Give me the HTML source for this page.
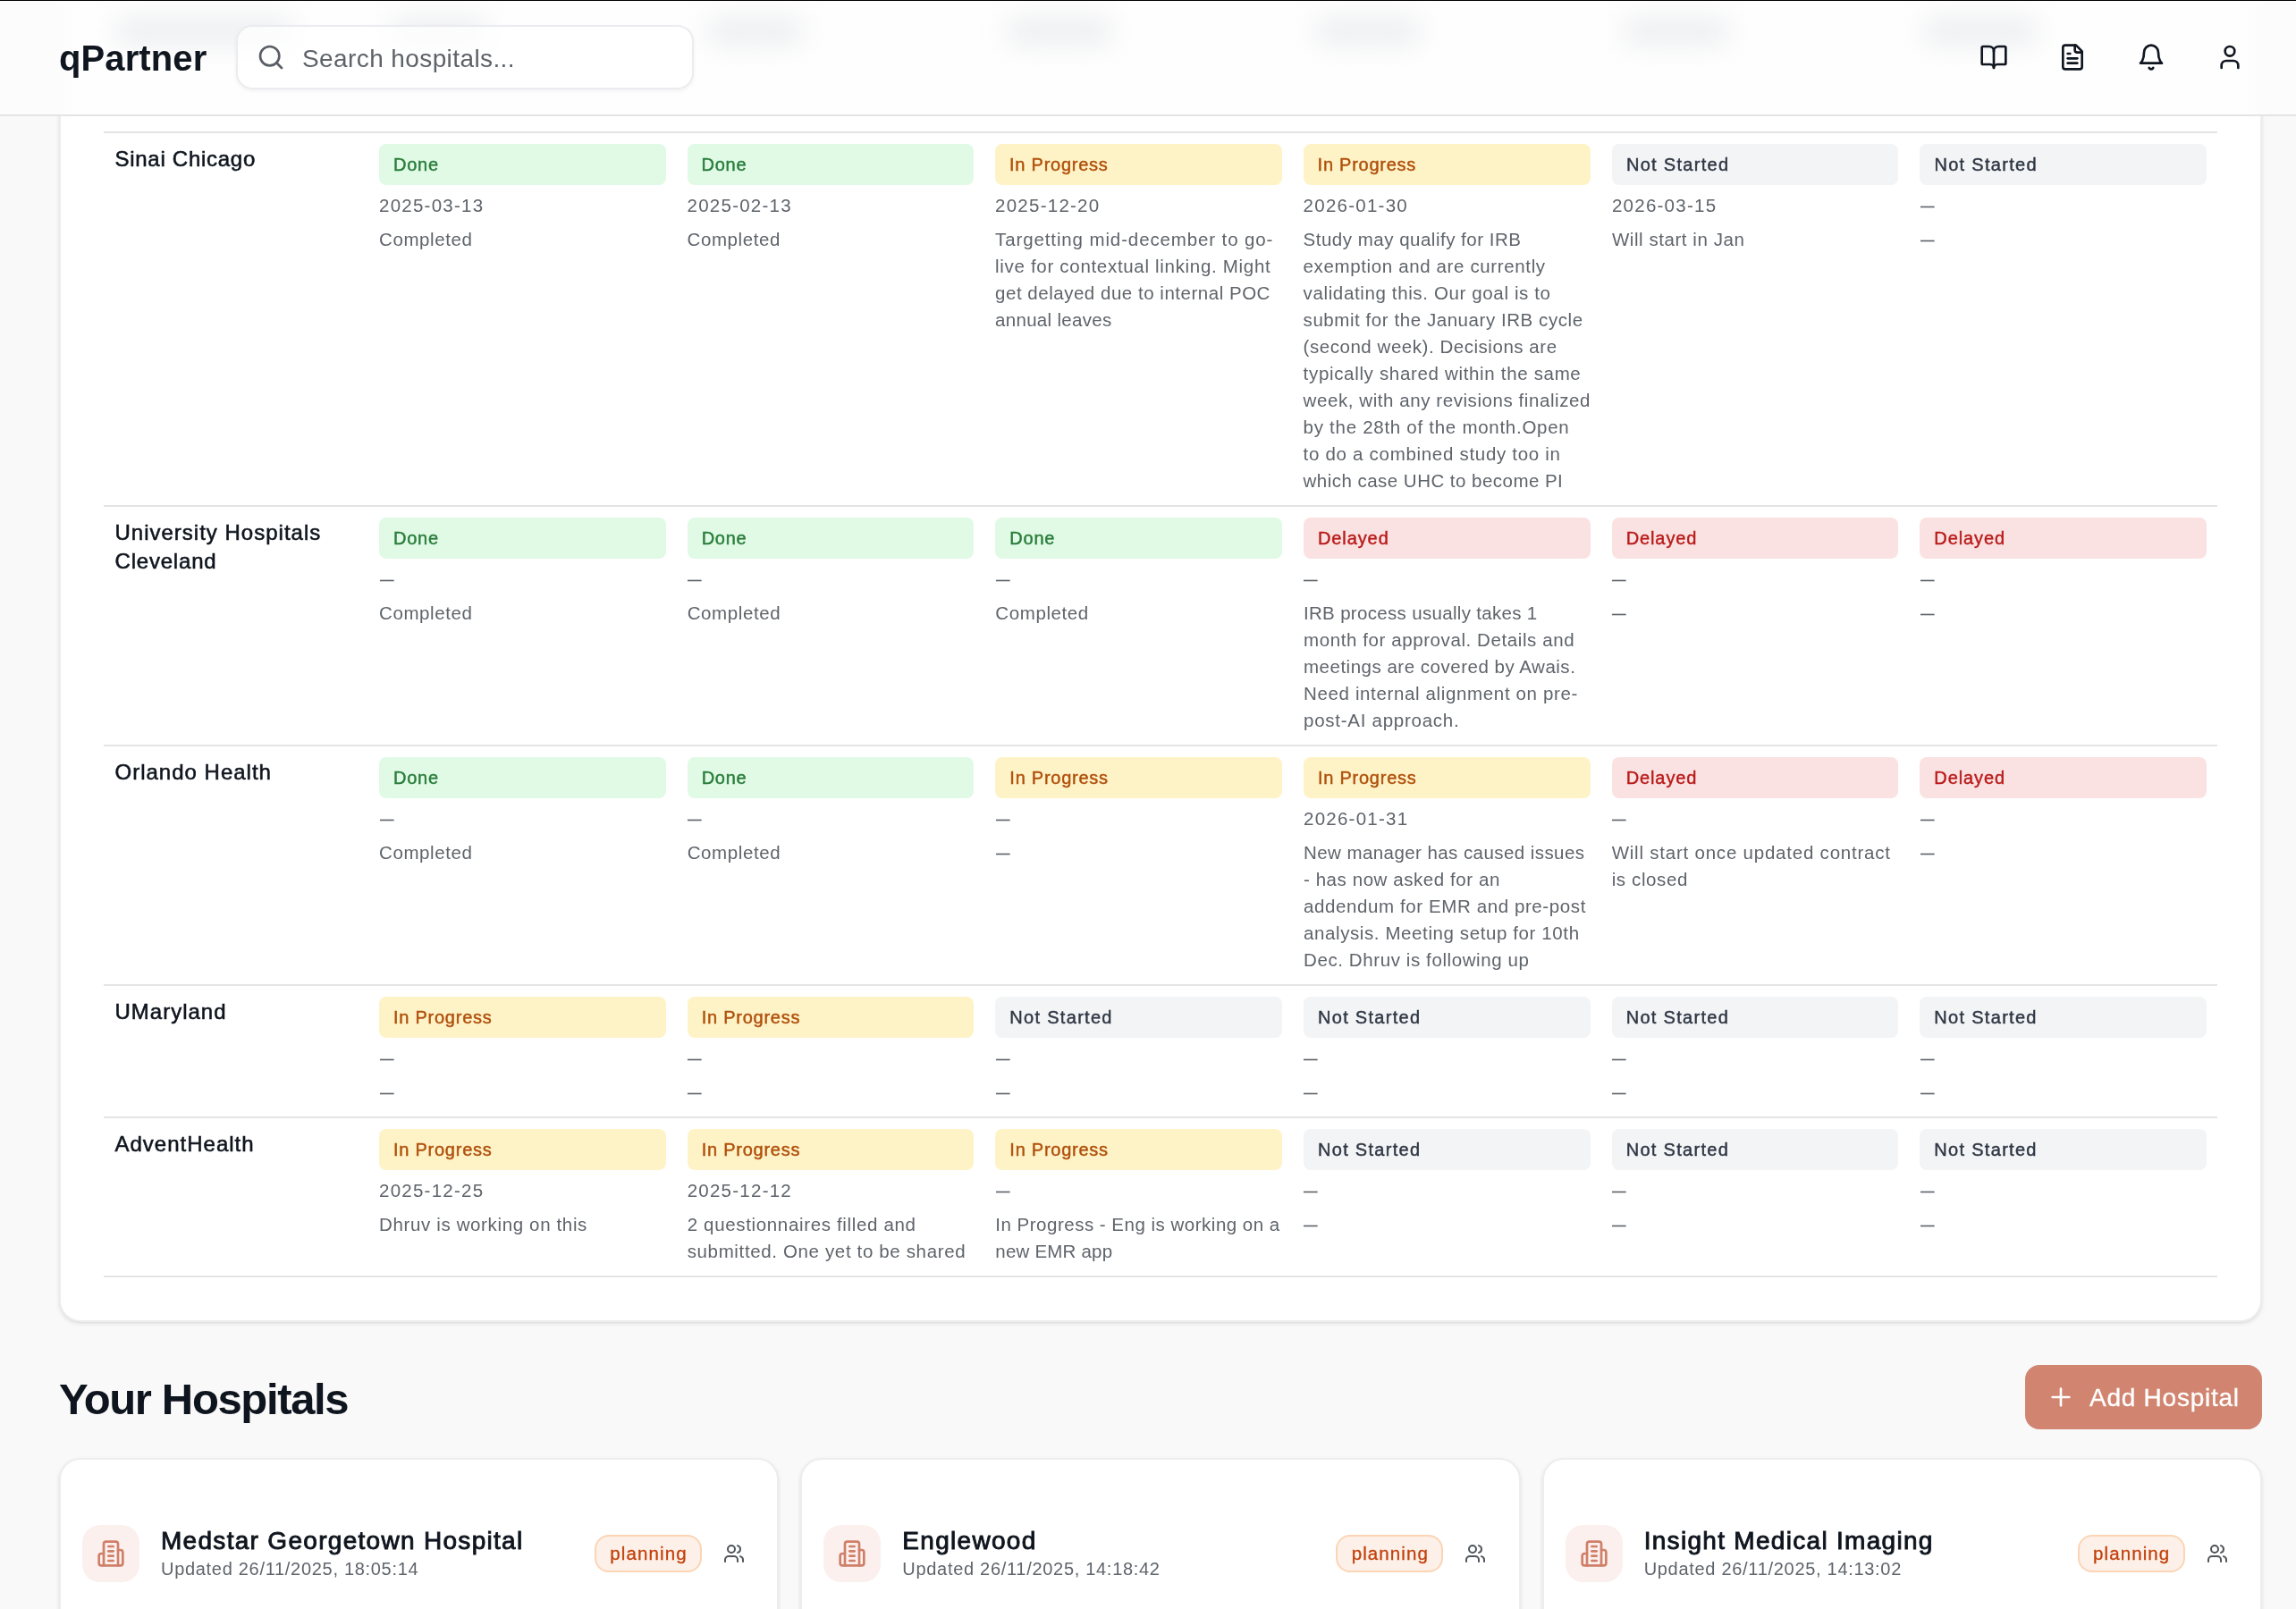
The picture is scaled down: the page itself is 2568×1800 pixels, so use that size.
<!DOCTYPE html>
<html lang="en">
<head>
<meta charset="utf-8">
<title>qPartner</title>
<style>
*{box-sizing:border-box;margin:0;padding:0}
html,body{width:2568px;height:1800px;overflow:hidden}
body{background:#f9f9f9;font-family:"Liberation Sans",Arial,sans-serif;color:#111827;position:relative;-webkit-font-smoothing:antialiased;will-change:transform}
svg{display:block;fill:none;stroke:currentColor;stroke-width:2;stroke-linecap:round;stroke-linejoin:round}

/* ---------- header ---------- */
.topline{position:absolute;left:0;top:0;width:2568px;height:1px;background:#000;z-index:30}
header{position:absolute;left:0;top:0;width:2568px;height:130px;background:linear-gradient(90deg,#fcfcfc 0,#fcfcfc 56px,#fefefe 92px,#fefefe 2504px,#fcfcfc 2540px,#fcfcfc 100%);border-bottom:2px solid #e4e4e5;z-index:20}
.logo{position:absolute;left:66px;top:37px;font-size:40px;line-height:56px;font-weight:700;letter-spacing:.1px;color:#10161f;white-space:nowrap}
.search{position:absolute;left:264px;top:28px;width:512px;height:72px;border:2px solid #ebecef;border-radius:18px;background:rgba(255,255,255,.72);box-shadow:0 2px 4px rgba(0,0,0,.05)}
.search svg{position:absolute;left:21px;top:18px;width:32px;height:32px;color:#595e66}
.search span{position:absolute;left:72px;top:16px;font-size:28px;line-height:40px;color:#5e6369;white-space:nowrap;letter-spacing:.4px}
.hbtn{position:absolute;top:48px;width:32px;height:32px;color:#10161f}
.blob{position:absolute;top:20px;height:30px;border-radius:15px;background:#d4d7dc;filter:blur(15px);opacity:.42}

/* ---------- table card ---------- */
.card{position:absolute;background:#fff;border:2px solid #ededee;border-radius:24px;box-shadow:0 2px 5px rgba(0,0,0,.09),0 1px 2px rgba(0,0,0,.05)}
#tcard{left:66px;top:-40px;width:2464px;height:1519px}
#tbl{position:absolute;left:48px;top:185px;width:2364px;border-bottom:2px solid #e4e4e4}
.row{display:grid;grid-template-columns:296px repeat(6,1fr);border-top:2px solid #e4e4e4}
.c{padding:12px}
.name{font-size:24px;line-height:32px;color:#0f151e;letter-spacing:1px;-webkit-text-stroke:.55px #0f151e;white-space:nowrap;position:relative;top:1px;left:.5px}
.pill{height:46px;border-radius:8px;padding:8px 16px;font-size:20px;line-height:30px;letter-spacing:.75px;white-space:nowrap;-webkit-text-stroke:.45px currentColor}
.done{background:#e0fae6;color:#2a7d3b}
.prog{background:#fef3c7;color:#b0500c}
.dely{background:#fbe2e2;color:#b91c1c;letter-spacing:.9px}
.nots{background:#f3f4f6;color:#2f3744;letter-spacing:1.3px}
.d,.n{margin-top:8px;font-size:20.5px;line-height:30px;color:#5f646b;white-space:nowrap;letter-spacing:.6px}
.d{letter-spacing:1.25px}
.em{display:inline-block;letter-spacing:0;transform:scaleX(.76);transform-origin:0 50%;margin-left:.5px;-webkit-text-stroke:.1px currentColor}

/* ---------- hospitals ---------- */
h2{position:absolute;left:66px;top:1533px;font-size:49px;line-height:64px;font-weight:700;letter-spacing:-1.35px;color:#0f151e;white-space:nowrap}
.add{position:absolute;left:2265px;top:1527px;width:265px;height:72px;border-radius:16px;background:#d18570;color:#fff}
.add svg{position:absolute;left:24px;top:20px;width:32px;height:32px}
.add span{position:absolute;left:72px;top:17px;font-size:28px;line-height:40px;white-space:nowrap;letter-spacing:.75px;-webkit-text-stroke:.3px #fff}
.hc{top:1631px;width:805.33px;height:300px}
.ico{position:absolute;left:24px;top:73px;width:64px;height:64px;border-radius:20px;background:#fbf0ee;color:#d07f68}
.ico svg{position:absolute;left:16px;top:16px;width:32px;height:32px}
.ttl{position:absolute;left:112px;top:71px;font-size:28px;line-height:40px;font-weight:400;color:#0f151e;white-space:nowrap;letter-spacing:1.3px;-webkit-text-stroke:.9px #0f151e}
.upd{position:absolute;left:112px;top:107px;font-size:20px;line-height:30px;color:#5f646b;white-space:nowrap;letter-spacing:.7px}
.badge{position:absolute;left:597px;top:84px;width:120px;height:42px;border:2px solid #fbd5b5;border-radius:16px;background:#fdf0e8;color:#c2410c;font-size:20.5px;line-height:38px;text-align:center;letter-spacing:1.1px;padding-left:1px;-webkit-text-stroke:.3px #c2410c}
.usr{position:absolute;left:741px;top:93px;width:24px;height:24px;color:#50555c}
</style>
</head>
<body>
<div class="topline"></div>

<header>
  <div class="blob" style="left:128px;width:200px"></div>
  <div class="blob" style="left:436px;width:110px"></div>
  <div class="blob" style="left:790px;width:110px"></div>
  <div class="blob" style="left:1125px;width:120px"></div>
  <div class="blob" style="left:1470px;width:120px"></div>
  <div class="blob" style="left:1815px;width:120px"></div>
  <div class="blob" style="left:2150px;width:130px"></div>
  <div class="logo">qPartner</div>
  <div class="search">
    <svg viewBox="0 0 24 24"><circle cx="11" cy="11" r="8"/><path d="m21 21-4.3-4.3"/></svg>
    <span>Search hospitals...</span>
  </div>
  <svg class="hbtn" style="left:2214px" viewBox="0 0 24 24"><path d="M12 7v14"/><path d="M3 18a1 1 0 0 1-1-1V4a1 1 0 0 1 1-1h5a4 4 0 0 1 4 4 4 4 0 0 1 4-4h5a1 1 0 0 1 1 1v13a1 1 0 0 1-1 1h-6a3 3 0 0 0-3 3 3 3 0 0 0-3-3z"/></svg>
  <svg class="hbtn" style="left:2302px" viewBox="0 0 24 24"><path d="M15 2H6a2 2 0 0 0-2 2v16a2 2 0 0 0 2 2h12a2 2 0 0 0 2-2V7Z"/><path d="M14 2v4a2 2 0 0 0 2 2h4"/><path d="M10 9H8"/><path d="M16 13H8"/><path d="M16 17H8"/></svg>
  <svg class="hbtn" style="left:2390px" viewBox="0 0 24 24"><path d="M6 8a6 6 0 0 1 12 0c0 7 3 9 3 9H3s3-2 3-9"/><path d="M10.3 21a1.94 1.94 0 0 0 3.4 0"/></svg>
  <svg class="hbtn" style="left:2478px" viewBox="0 0 24 24"><path d="M19 21v-2a4 4 0 0 0-4-4H9a4 4 0 0 0-4 4v2"/><circle cx="12" cy="7" r="4"/></svg>
</header>

<div class="card" id="tcard">
  <div id="tbl">
    <div class="row">
      <div class="c"><div class="name" style="letter-spacing:.72px">Sinai Chicago</div></div>
      <div class="c"><div class="pill done">Done</div><div class="d">2025-03-13</div><div class="n">Completed</div></div>
      <div class="c"><div class="pill done">Done</div><div class="d">2025-02-13</div><div class="n">Completed</div></div>
      <div class="c"><div class="pill prog">In Progress</div><div class="d">2025-12-20</div><div class="n"><span style="letter-spacing:0.88px">Targetting mid-december to go-</span><br><span style="letter-spacing:0.69px">live for contextual linking. Might</span><br><span style="letter-spacing:0.52px">get delayed due to internal POC</span><br><span style="letter-spacing:0.30px">annual leaves</span></div></div>
      <div class="c"><div class="pill prog">In Progress</div><div class="d">2026-01-30</div><div class="n"><span style="letter-spacing:0.50px">Study may qualify for IRB</span><br><span style="letter-spacing:0.63px">exemption and are currently</span><br><span style="letter-spacing:0.63px">validating this. Our goal is to</span><br><span style="letter-spacing:0.56px">submit for the January IRB cycle</span><br><span style="letter-spacing:0.54px">(second week). Decisions are</span><br><span style="letter-spacing:0.67px">typically shared within the same</span><br><span style="letter-spacing:0.57px">week, with any revisions finalized</span><br><span style="letter-spacing:0.72px">by the 28th of the month.Open</span><br><span style="letter-spacing:0.70px">to do a combined study too in</span><br><span style="letter-spacing:0.47px">which case UHC to become PI</span></div></div>
      <div class="c"><div class="pill nots">Not Started</div><div class="d">2026-03-15</div><div class="n"><span style="letter-spacing:0.56px">Will start in Jan</span></div></div>
      <div class="c"><div class="pill nots">Not Started</div><div class="d"><span class="em">—</span></div><div class="n"><span class="em">—</span></div></div>
    </div>
    <div class="row">
      <div class="c"><div class="name">University Hospitals<br><span style="letter-spacing:.8px">Cleveland</span></div></div>
      <div class="c"><div class="pill done">Done</div><div class="d"><span class="em">—</span></div><div class="n">Completed</div></div>
      <div class="c"><div class="pill done">Done</div><div class="d"><span class="em">—</span></div><div class="n">Completed</div></div>
      <div class="c"><div class="pill done">Done</div><div class="d"><span class="em">—</span></div><div class="n">Completed</div></div>
      <div class="c"><div class="pill dely">Delayed</div><div class="d"><span class="em">—</span></div><div class="n"><span style="letter-spacing:0.32px">IRB process usually takes 1</span><br><span style="letter-spacing:0.59px">month for approval. Details and</span><br><span style="letter-spacing:0.51px">meetings are covered by Awais.</span><br><span style="letter-spacing:0.64px">Need internal alignment on pre-</span><br><span style="letter-spacing:0.74px">post-AI approach.</span></div></div>
      <div class="c"><div class="pill dely">Delayed</div><div class="d"><span class="em">—</span></div><div class="n"><span class="em">—</span></div></div>
      <div class="c"><div class="pill dely">Delayed</div><div class="d"><span class="em">—</span></div><div class="n"><span class="em">—</span></div></div>
    </div>
    <div class="row">
      <div class="c"><div class="name">Orlando Health</div></div>
      <div class="c"><div class="pill done">Done</div><div class="d"><span class="em">—</span></div><div class="n">Completed</div></div>
      <div class="c"><div class="pill done">Done</div><div class="d"><span class="em">—</span></div><div class="n">Completed</div></div>
      <div class="c"><div class="pill prog">In Progress</div><div class="d"><span class="em">—</span></div><div class="n"><span class="em">—</span></div></div>
      <div class="c"><div class="pill prog">In Progress</div><div class="d">2026-01-31</div><div class="n"><span style="letter-spacing:0.43px">New manager has caused issues</span><br><span style="letter-spacing:0.57px">- has now asked for an</span><br><span style="letter-spacing:0.60px">addendum for EMR and pre-post</span><br><span style="letter-spacing:0.60px">analysis. Meeting setup for 10th</span><br><span style="letter-spacing:0.60px">Dec. Dhruv is following up</span></div></div>
      <div class="c"><div class="pill dely">Delayed</div><div class="d"><span class="em">—</span></div><div class="n"><span style="letter-spacing:0.78px">Will start once updated contract</span><br><span style="letter-spacing:0.62px">is closed</span></div></div>
      <div class="c"><div class="pill dely">Delayed</div><div class="d"><span class="em">—</span></div><div class="n"><span class="em">—</span></div></div>
    </div>
    <div class="row">
      <div class="c"><div class="name">UMaryland</div></div>
      <div class="c"><div class="pill prog">In Progress</div><div class="d"><span class="em">—</span></div><div class="n"><span class="em">—</span></div></div>
      <div class="c"><div class="pill prog">In Progress</div><div class="d"><span class="em">—</span></div><div class="n"><span class="em">—</span></div></div>
      <div class="c"><div class="pill nots">Not Started</div><div class="d"><span class="em">—</span></div><div class="n"><span class="em">—</span></div></div>
      <div class="c"><div class="pill nots">Not Started</div><div class="d"><span class="em">—</span></div><div class="n"><span class="em">—</span></div></div>
      <div class="c"><div class="pill nots">Not Started</div><div class="d"><span class="em">—</span></div><div class="n"><span class="em">—</span></div></div>
      <div class="c"><div class="pill nots">Not Started</div><div class="d"><span class="em">—</span></div><div class="n"><span class="em">—</span></div></div>
    </div>
    <div class="row">
      <div class="c"><div class="name">AdventHealth</div></div>
      <div class="c"><div class="pill prog">In Progress</div><div class="d">2025-12-25</div><div class="n"><span style="letter-spacing:0.64px">Dhruv is working on this</span></div></div>
      <div class="c"><div class="pill prog">In Progress</div><div class="d">2025-12-12</div><div class="n"><span style="letter-spacing:0.66px">2 questionnaires filled and</span><br><span style="letter-spacing:0.64px">submitted. One yet to be shared</span></div></div>
      <div class="c"><div class="pill prog">In Progress</div><div class="d"><span class="em">—</span></div><div class="n"><span style="letter-spacing:0.50px">In Progress - Eng is working on a</span><br><span style="letter-spacing:0.20px">new EMR app</span></div></div>
      <div class="c"><div class="pill nots">Not Started</div><div class="d"><span class="em">—</span></div><div class="n"><span class="em">—</span></div></div>
      <div class="c"><div class="pill nots">Not Started</div><div class="d"><span class="em">—</span></div><div class="n"><span class="em">—</span></div></div>
      <div class="c"><div class="pill nots">Not Started</div><div class="d"><span class="em">—</span></div><div class="n"><span class="em">—</span></div></div>
    </div>
  </div>
</div>

<h2>Your Hospitals</h2>
<div class="add">
  <svg viewBox="0 0 24 24"><path d="M5 12h14"/><path d="M12 5v14"/></svg>
  <span>Add Hospital</span>
</div>

<div class="card hc" style="left:66px">
  <div class="ico"><svg viewBox="0 0 24 24"><path d="M6 22V4a2 2 0 0 1 2-2h8a2 2 0 0 1 2 2v18Z"/><path d="M6 12H4a2 2 0 0 0-2 2v6a2 2 0 0 0 2 2h2"/><path d="M18 9h2a2 2 0 0 1 2 2v9a2 2 0 0 1-2 2h-2"/><path d="M10 6h4"/><path d="M10 10h4"/><path d="M10 14h4"/><path d="M10 18h4"/></svg></div>
  <div class="ttl">Medstar Georgetown Hospital</div>
  <div class="upd">Updated 26/11/2025, 18:05:14</div>
  <div class="badge">planning</div>
  <svg class="usr" viewBox="0 0 24 24"><path d="M16 21v-2a4 4 0 0 0-4-4H6a4 4 0 0 0-4 4v2"/><circle cx="9" cy="7" r="4"/><path d="M22 21v-2a4 4 0 0 0-3-3.87"/><path d="M16 3.13a4 4 0 0 1 0 7.75"/></svg>
</div>
<div class="card hc" style="left:895.33px">
  <div class="ico"><svg viewBox="0 0 24 24"><path d="M6 22V4a2 2 0 0 1 2-2h8a2 2 0 0 1 2 2v18Z"/><path d="M6 12H4a2 2 0 0 0-2 2v6a2 2 0 0 0 2 2h2"/><path d="M18 9h2a2 2 0 0 1 2 2v9a2 2 0 0 1-2 2h-2"/><path d="M10 6h4"/><path d="M10 10h4"/><path d="M10 14h4"/><path d="M10 18h4"/></svg></div>
  <div class="ttl">Englewood</div>
  <div class="upd">Updated 26/11/2025, 14:18:42</div>
  <div class="badge">planning</div>
  <svg class="usr" viewBox="0 0 24 24"><path d="M16 21v-2a4 4 0 0 0-4-4H6a4 4 0 0 0-4 4v2"/><circle cx="9" cy="7" r="4"/><path d="M22 21v-2a4 4 0 0 0-3-3.87"/><path d="M16 3.13a4 4 0 0 1 0 7.75"/></svg>
</div>
<div class="card hc" style="left:1724.67px">
  <div class="ico"><svg viewBox="0 0 24 24"><path d="M6 22V4a2 2 0 0 1 2-2h8a2 2 0 0 1 2 2v18Z"/><path d="M6 12H4a2 2 0 0 0-2 2v6a2 2 0 0 0 2 2h2"/><path d="M18 9h2a2 2 0 0 1 2 2v9a2 2 0 0 1-2 2h-2"/><path d="M10 6h4"/><path d="M10 10h4"/><path d="M10 14h4"/><path d="M10 18h4"/></svg></div>
  <div class="ttl">Insight Medical Imaging</div>
  <div class="upd">Updated 26/11/2025, 14:13:02</div>
  <div class="badge">planning</div>
  <svg class="usr" viewBox="0 0 24 24"><path d="M16 21v-2a4 4 0 0 0-4-4H6a4 4 0 0 0-4 4v2"/><circle cx="9" cy="7" r="4"/><path d="M22 21v-2a4 4 0 0 0-3-3.87"/><path d="M16 3.13a4 4 0 0 1 0 7.75"/></svg>
</div>
</body>
</html>
